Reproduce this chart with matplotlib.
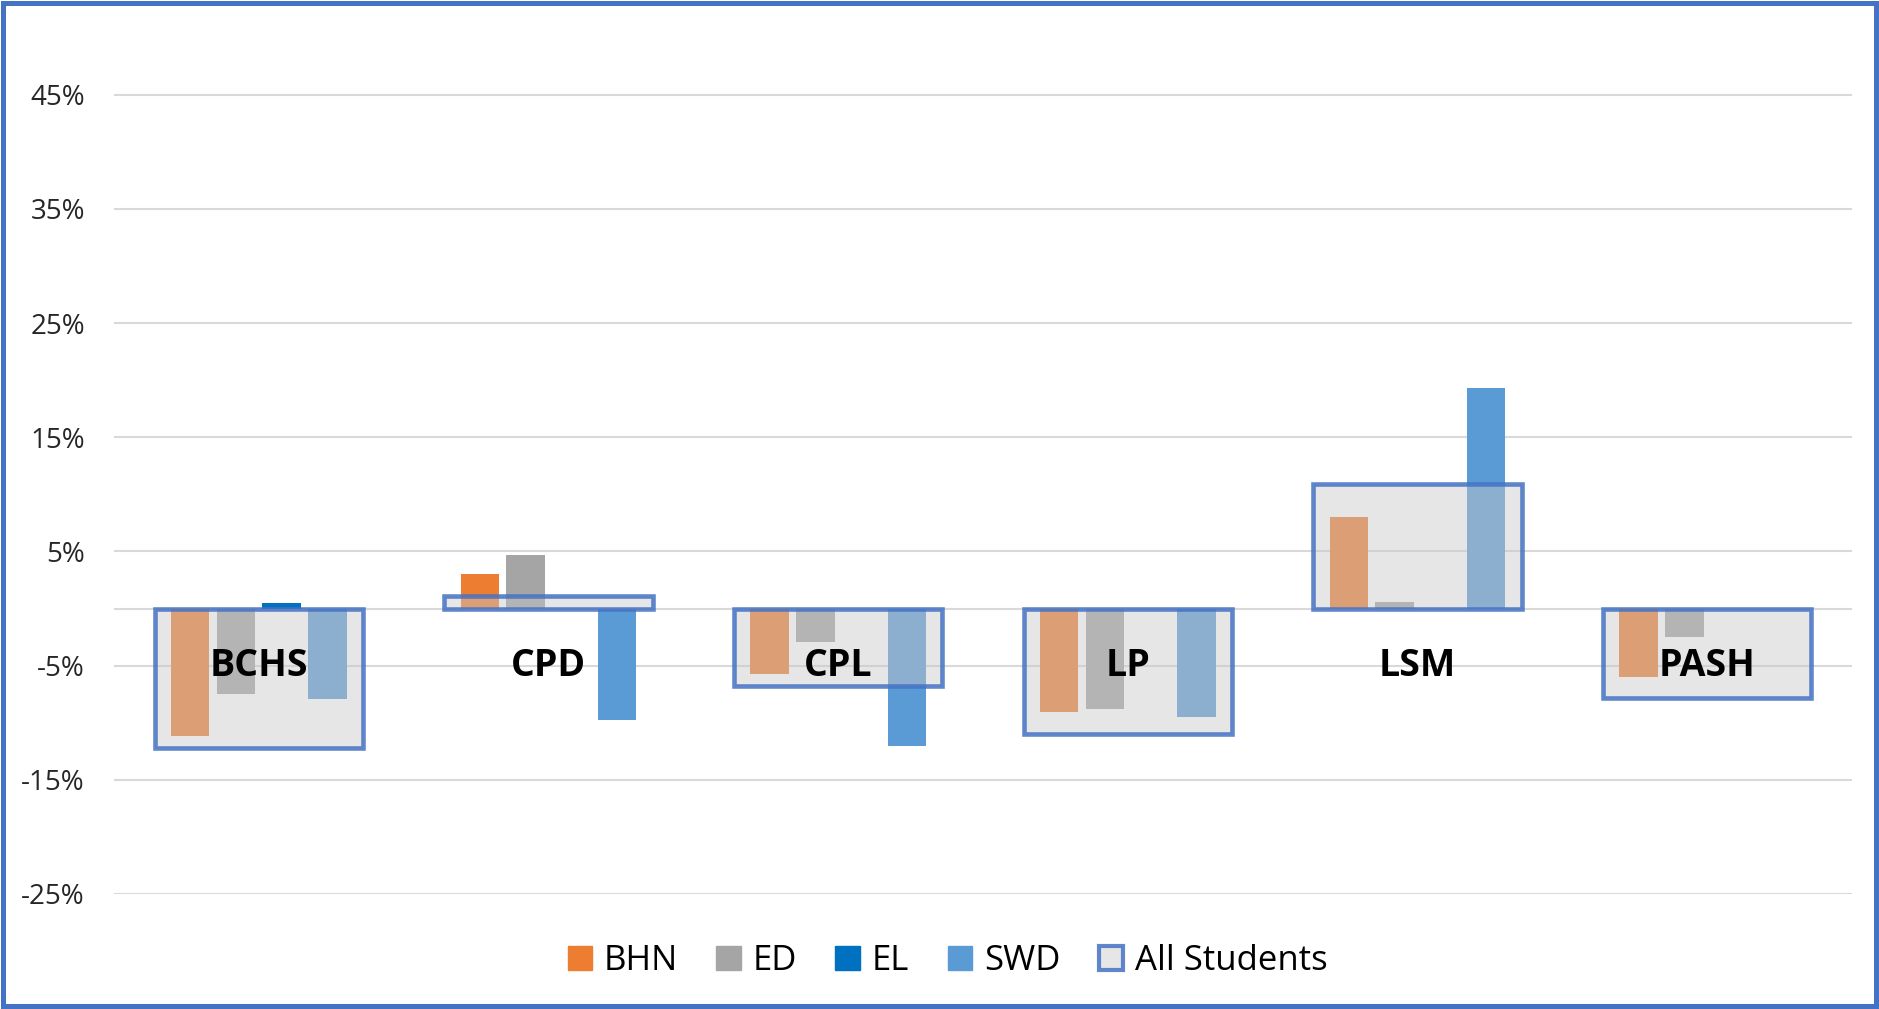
import numpy as np
import matplotlib
matplotlib.use("Agg")
import matplotlib.pyplot as plt
from matplotlib.patches import Rectangle, Patch
from matplotlib.ticker import FuncFormatter

plt.rcParams["font.family"] = ["Open Sans", "DejaVu Sans"]

# Données (écarts en %)
schools = ["BCHS", "CPD", "CPL", "LP", "LSM", "PASH"]
bhn = [-11.2, 3.0, -5.7, -9.1, 8.0, -6.0]
ed = [-7.5, 4.7, -2.9, -8.8, 0.6, -2.5]
el = [0.5, np.nan, np.nan, np.nan, np.nan, np.nan]
swd = [-7.9, -9.8, -12.0, -9.5, 19.3, np.nan]
all_students = [-12.2, 1.1, -6.8, -11.0, 10.9, -7.8]
yticks = [-25, -15, -5, 5, 15, 25, 35, 45]

series = [("BHN", bhn, "#ED7D31"), ("ED", ed, "#A5A5A5"),
          ("EL", el, "#0070C0"), ("SWD", swd, "#5B9BD5")]

W, H = 1879, 1009
fig = plt.figure(figsize=(W / 100, H / 100), dpi=100)
ax = fig.add_axes([114 / W, 1 - 894 / H, (1852 - 114) / W, (894 - 37.5) / H])

x = np.arange(len(schools))
step, bw = 0.158, 0.133

# grille
for t in yticks + [0]:
    ax.axhline(t, color="#D9D9D9", lw=1.5, zorder=1)

# barres par sous-groupe
for k, (name, vals, col) in enumerate(series):
    ax.bar(x + (k - 1.5) * step, vals, width=bw, color=col, zorder=2)

# boîte "All Students" par-dessus (semi-transparente)
fill = (200 / 255, 200 / 255, 200 / 255, 0.45)
edge = (0x44 / 255, 0x72 / 255, 0xC4 / 255, 0.85)
ax.bar(x, all_students, width=0.72, facecolor=fill, edgecolor=edge, linewidth=3.3, zorder=3)

# étiquettes des écoles
for xi, s in zip(x, schools):
    ax.text(xi, -5.0, s, ha="center", va="center", fontsize=27, fontweight="bold",
            color="black", zorder=5)

ax.set_xlim(-0.5, len(schools) - 0.5)
ax.set_ylim(-25, 50)
ax.set_yticks(yticks)
ax.yaxis.set_major_formatter(FuncFormatter(lambda v, p: f"{v:.0f}%"))
ax.set_xticks([])
ax.tick_params(axis="y", length=0, pad=21, labelsize=20, labelcolor="#262626")
for sp in ax.spines.values():
    sp.set_visible(False)

handles = [Patch(facecolor=c, edgecolor=c, label=n) for n, _, c in series]
handles.append(Patch(facecolor=fill, edgecolor=edge, linewidth=3, label="All Students"))
fig.legend(handles=handles, loc="center", bbox_to_anchor=(947.6 / W, 48 / H), ncol=5,
           frameon=False, fontsize=25, handlelength=0.7, handleheight=0.7,
           handletextpad=0.35, columnspacing=1.1)

# cadre bleu autour de la figure
fig.patches.append(Rectangle((3 / W, 3 / H), 1 - 6 / W, 1 - 6 / H, transform=fig.transFigure,
                             fill=False, edgecolor="#4472C4", linewidth=3.6))

fig.savefig("out.png", dpi=100)
